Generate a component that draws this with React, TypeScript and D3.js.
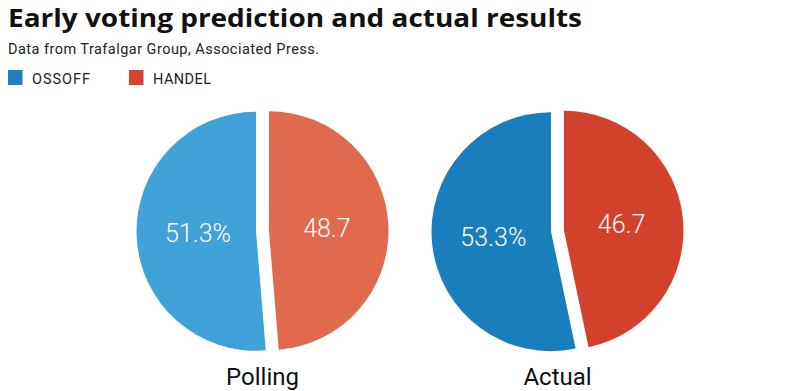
import React from 'react';
import * as d3 from 'd3';

const candidates = ['OSSOFF', 'HANDEL'];
const panels = ['Polling', 'Actual'];
const pollingValues = [51.3, 48.7];
const actualValues = [53.3, 46.7];
const legendColors = ['#1f80c1', '#d8432f'];
const pollingColors = ['#41a1d9', '#e06a4e'];
const actualColors = ['#197ebb', '#d2412c'];

const width = 800;
const height = 391;
const radius = 119.5;
const explode = 6.5;
const cy = 231;
const font = 'Roboto, "Liberation Sans", sans-serif';
const titleFont = '"Open Sans", Roboto, sans-serif';

const x = d3.scaleBand<string>().domain(panels).range([115, 705]);

const pie = d3.pie<number>().sort(null).startAngle(0).endAngle(-2 * Math.PI);
const arc = d3.arc<d3.PieArcDatum<number>>().innerRadius(0).outerRadius(radius);
const labelArc = d3.arc<d3.PieArcDatum<number>>().innerRadius(58).outerRadius(58);

const Pie = ({ name, values, colors }: { name: string; values: number[]; colors: string[] }) => {
  const cx = (x(name) ?? 0) + x.bandwidth() / 2;
  const arcs = pie(values);
  return (
    <g transform={`translate(${cx},${cy})`}>
      {arcs.map((a, i) => {
        const mid = (a.startAngle + a.endAngle) / 2;
        const dx = Math.sin(mid) * explode;
        const dy = -Math.cos(mid) * explode;
        const [lx, ly] = labelArc.centroid(a);
        return (
          <g key={i} transform={`translate(${dx},${dy})`}>
            <path d={arc(a) ?? ''} fill={colors[i]} />
            <text
              x={lx}
              y={ly}
              dy="0.35em"
              textAnchor="middle"
              fill="#fff"
              fontSize={25}
              fontWeight={300}
              fontFamily={font}
            >
              {i === 0 ? `${values[i]}%` : values[i]}
            </text>
          </g>
        );
      })}
      <text y={154} textAnchor="middle" fontSize={24} fontFamily={font} fill="#111">
        {name}
      </text>
    </g>
  );
};

export default function App() {
  return (
    <svg width={width} height={height} style={{ position: 'absolute', left: 0, top: 0, background: '#fff' }}>
      <text x={8} y={27} fontSize={25.5} fontWeight={700} fontFamily={titleFont} fill="#111"
        textLength={574} lengthAdjust="spacingAndGlyphs">
        Early voting prediction and actual results
      </text>
      <text x={8} y={54} fontSize={14.5} fontFamily={font} fill="#222"
        textLength={311} lengthAdjust="spacing">
        Data from Trafalgar Group, Associated Press.
      </text>
      {candidates.map((c, i) => (
        <g key={c} transform={`translate(${8 + i * 121},70)`}>
          <rect width={14.5} height={15} fill={legendColors[i]} />
          <text x={24} y={13.5} fontSize={14.5} fontFamily={font} fill="#222"
            textLength={58} lengthAdjust="spacing">
            {c}
          </text>
        </g>
      ))}
      <Pie name="Polling" values={pollingValues} colors={pollingColors} />
      <Pie name="Actual" values={actualValues} colors={actualColors} />
    </svg>
  );
}
